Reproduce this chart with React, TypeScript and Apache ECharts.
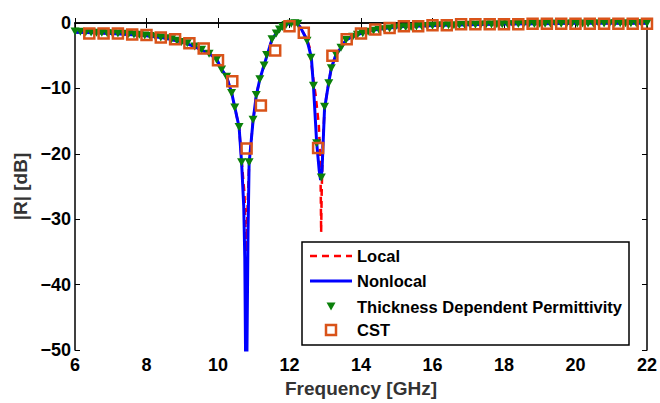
import React, { useEffect, useRef } from 'react';
import * as echarts from 'echarts';

// [frequency GHz, |R| dB]
const localCurve: [number, number][] = [
  [6.0, -1.4], [6.5, -1.5], [7.0, -1.6], [7.5, -1.75], [8.0, -1.95], [8.5, -2.3], [9.0, -2.9],
  [9.35, -3.6], [9.55, -4.2], [9.75, -4.65], [9.96, -5.5], [10.1, -7.1], [10.24, -8.2], [10.38, -10.6],
  [10.47, -12.9], [10.59, -15.9], [10.66, -21.0], [10.74, -26], [10.775, -32], [10.79, -35], [10.805, -32],
  [10.84, -26], [10.87, -21.5], [10.98, -15.0], [11.07, -11.1], [11.17, -8.6], [11.29, -6.4], [11.37, -5.0],
  [11.51, -2.5], [11.63, -1.6], [11.72, -1.0], [11.81, -0.6], [11.95, -0.15], [12.05, -0.05], [12.15, -0.05],
  [12.23, -0.2], [12.31, -0.7], [12.49, -2.5], [12.56, -3.7], [12.64, -7.5], [12.73, -11.0], [12.82, -15.6],
  [12.86, -20.5], [12.875, -26], [12.885, -32], [12.9, -26], [12.93, -19], [12.98, -13.1], [13.1, -9.0],
  [13.17, -6.9], [13.3, -4.8], [13.44, -3.8], [13.58, -2.6], [13.77, -2.1], [14.0, -1.6], [14.3, -1.1],
  [14.7, -0.8], [15.2, -0.55], [15.7, -0.45], [16.3, -0.35], [17.0, -0.25], [18.0, -0.15], [19.0, -0.1],
  [20.0, -0.05], [21.0, -0.03], [22.0, -0.02],
];

const nonlocalCurve: [number, number][] = [
  [6.0, -1.4], [6.5, -1.5], [7.0, -1.6], [7.5, -1.75], [8.0, -1.95], [8.5, -2.3], [9.0, -2.9],
  [9.35, -3.6], [9.55, -4.2], [9.75, -4.65], [9.96, -5.5], [10.1, -7.1], [10.24, -8.2], [10.38, -10.6],
  [10.47, -12.9], [10.59, -15.9], [10.66, -21.3], [10.72, -28], [10.75, -36], [10.77, -50], [10.79, -60],
  [10.81, -50], [10.84, -32], [10.87, -21.5], [10.98, -15.0], [11.07, -11.1], [11.17, -8.6], [11.29, -6.4],
  [11.37, -5.0], [11.51, -2.5], [11.63, -1.6], [11.72, -1.0], [11.81, -0.6], [11.95, -0.15], [12.05, -0.05],
  [12.15, -0.05], [12.23, -0.2], [12.31, -0.7], [12.49, -2.6], [12.61, -5.2], [12.67, -9.6], [12.76, -18.3],
  [12.83, -22.5], [12.87, -24], [12.91, -22.5], [12.98, -13.1], [13.1, -9.0], [13.17, -6.9], [13.3, -4.8],
  [13.44, -3.8], [13.58, -2.6], [13.77, -2.1], [14.0, -1.6], [14.3, -1.1], [14.7, -0.8], [15.2, -0.55],
  [15.7, -0.45], [16.3, -0.35], [17.0, -0.25], [18.0, -0.15], [19.0, -0.1], [20.0, -0.05], [21.0, -0.03],
  [22.0, -0.02],
];

const tdpPoints: [number, number][] = [
  [6.0, -1.3], [6.15, -1.35], [6.3, -1.4], [6.45, -1.45], [6.6, -1.5], [6.75, -1.5], [6.9, -1.55],
  [7.05, -1.6], [7.2, -1.6], [7.35, -1.65], [7.5, -1.7], [7.65, -1.75], [7.8, -1.8], [7.95, -1.9],
  [8.1, -2.0], [8.25, -2.1], [8.4, -2.2], [8.55, -2.35], [8.7, -2.5], [8.85, -2.7], [8.98, -2.9],
  [9.14, -3.1], [9.35, -3.6], [9.54, -4.1], [9.75, -4.7], [9.96, -5.6], [10.1, -7.1], [10.24, -8.2],
  [10.38, -10.7], [10.47, -12.9], [10.59, -15.9], [10.66, -21.3], [10.87, -21.3], [10.98, -14.8],
  [11.07, -11.0], [11.17, -8.6], [11.29, -6.5], [11.36, -4.9], [11.51, -2.5], [11.63, -1.6], [11.72, -1.0],
  [11.81, -0.6], [11.9, -0.3], [12.05, -0.1], [12.15, -0.05], [12.23, -0.1], [12.49, -2.7], [12.6, -5.3],
  [12.67, -9.6], [12.76, -18.4], [12.89, -23.6], [12.98, -12.8], [13.1, -9.2], [13.17, -6.9], [13.3, -4.8],
  [13.44, -3.8], [13.58, -2.6], [13.77, -2.1], [13.9, -1.8], [14.05, -1.55], [14.2, -1.35], [14.35, -1.2],
  [14.5, -1.05], [14.65, -0.95], [14.8, -0.85], [14.95, -0.75], [15.1, -0.7], [15.25, -0.65], [15.4, -0.6],
  [15.55, -0.55], [15.7, -0.5], [15.85, -0.45], [16.0, -0.42], [16.15, -0.4], [16.3, -0.38], [16.45, -0.35],
  [16.6, -0.33], [16.75, -0.3], [16.9, -0.3], [17.05, -0.28], [17.2, -0.26], [17.35, -0.25], [17.5, -0.24],
  [17.65, -0.22], [17.8, -0.21], [17.95, -0.2], [18.1, -0.19], [18.25, -0.18], [18.4, -0.17], [18.55, -0.16],
  [18.7, -0.15], [18.85, -0.14], [19.0, -0.13], [19.15, -0.12], [19.3, -0.12], [19.45, -0.11], [19.6, -0.1],
  [19.75, -0.1], [19.9, -0.09], [20.05, -0.09], [20.2, -0.08], [20.35, -0.08], [20.5, -0.07], [20.65, -0.07],
  [20.8, -0.06], [20.95, -0.06], [21.1, -0.05], [21.25, -0.05], [21.4, -0.05], [21.55, -0.04], [21.7, -0.04],
  [21.85, -0.04], [22.0, -0.03],
];

const cstPoints: [number, number][] = [
  [6.4, -1.6], [6.8, -1.6], [7.2, -1.6], [7.6, -1.75], [8.0, -1.85], [8.4, -2.2], [8.8, -2.5], [9.2, -3.1],
  [9.6, -3.9], [10.0, -5.7], [10.4, -8.9], [10.8, -19.2], [11.2, -12.6], [11.6, -4.2], [12.0, -0.5],
  [12.4, -1.5], [12.8, -19.1], [13.2, -5.0], [13.6, -2.5], [14.0, -1.6], [14.4, -1.0], [14.8, -0.76],
  [15.2, -0.5], [15.6, -0.5], [16.0, -0.35], [16.4, -0.35], [16.8, -0.2], [17.2, -0.2], [17.6, -0.2],
  [18.0, -0.2], [18.4, -0.2], [18.8, -0.1], [19.2, -0.1], [19.6, -0.1], [20.0, -0.1], [20.4, -0.1],
  [20.8, -0.1], [21.2, -0.1], [21.6, -0.1], [22.0, -0.1],
];

const legendNames = ['Local', 'Nonlocal', 'Thickness Dependent Permittivity', 'CST'];

const FONT = '"Liberation Sans", Arial, Helvetica, sans-serif';
const RED = '#ff0000';
const BLUE = '#0000ff';
const GREEN = '#0a800a';
const ORANGE = '#d95319';

export default function App() {
  const ref = useRef<HTMLDivElement>(null);

  useEffect(() => {
    const chart = echarts.init(ref.current!, null, { renderer: 'svg' });
    const fmt = (v: number) => (v < 0 ? '\u2212' + Math.abs(v) : String(v));
    const axisLine = { show: true, lineStyle: { color: '#000', width: 1.5 } };
    const axisTick = { show: true, inside: true, length: 5, lineStyle: { color: '#000', width: 1 } };
    const labelStyle = { color: '#000', fontWeight: 'bold', fontSize: 18, fontFamily: FONT };
    const nameStyle = { color: '#333', fontWeight: 'bold', fontSize: 19, fontFamily: FONT };

    const lx = 302, ly = 242, lw = 327, lh = 103;
    const rows = [256, 281, 306.5, 330];
    const textX = 357;

    chart.setOption({
      animation: false,
      backgroundColor: '#fff',
      grid: { left: 75, right: 12, top: 23, bottom: 52 },
      xAxis: [
        {
          type: 'value', min: 6, max: 22, interval: 2, position: 'bottom',
          name: 'Frequency [GHz]', nameLocation: 'middle', nameGap: 19, nameTextStyle: nameStyle,
          axisLine, axisTick, axisLabel: { ...labelStyle, margin: 6 }, splitLine: { show: false },
        },
        {
          type: 'value', min: 6, max: 22, interval: 2, position: 'top',
          axisLine, axisTick, axisLabel: { show: false }, splitLine: { show: false },
        },
      ],
      yAxis: [
        {
          type: 'value', min: -50, max: 0, interval: 10, position: 'left',
          name: '|R| [dB]', nameLocation: 'middle', nameGap: 38, nameTextStyle: nameStyle,
          axisLine, axisTick, axisLabel: { ...labelStyle, margin: 4, formatter: fmt }, splitLine: { show: false },
        },
        {
          type: 'value', min: -50, max: 0, interval: 10, position: 'right',
          axisLine, axisTick, axisLabel: { show: false }, splitLine: { show: false },
        },
      ],
      series: [
        {
          name: legendNames[0], type: 'line', data: localCurve, showSymbol: false, symbol: 'none',
          lineStyle: { color: RED, width: 2.5, type: [7, 5] }, z: 2, clip: true,
        },
        {
          name: legendNames[1], type: 'line', data: nonlocalCurve, showSymbol: false, symbol: 'none',
          lineStyle: { color: BLUE, width: 3 }, z: 3, clip: true,
        },
        {
          name: legendNames[2], type: 'scatter', data: tdpPoints, symbol: 'triangle', symbolRotate: 180,
          symbolSize: [9, 8], itemStyle: { color: GREEN, opacity: 1 }, z: 4,
        },
        {
          name: legendNames[3], type: 'scatter', data: cstPoints, symbol: 'rect', symbolSize: 10,
          itemStyle: { color: 'rgba(255,255,255,0)', borderColor: ORANGE, borderWidth: 2.5, opacity: 1 }, z: 5,
        },
      ],
      graphic: [
        {
          type: 'rect', z: 100, shape: { x: lx, y: ly, width: lw, height: lh },
          style: { fill: '#fff', stroke: '#000', lineWidth: 1.5 },
        },
        {
          type: 'line', z: 101, shape: { x1: 310, y1: rows[0], x2: 352, y2: rows[0] },
          style: { stroke: RED, lineWidth: 2.5, lineDash: [7, 5] },
        },
        {
          type: 'line', z: 101, shape: { x1: 310, y1: rows[1], x2: 352, y2: rows[1] },
          style: { stroke: BLUE, lineWidth: 3 },
        },
        {
          type: 'polygon', z: 101,
          shape: { points: [[326.5, rows[2] - 4], [335.5, rows[2] - 4], [331, rows[2] + 4]] },
          style: { fill: GREEN },
        },
        {
          type: 'rect', z: 101, shape: { x: 326, y: rows[3] - 5, width: 10, height: 10 },
          style: { fill: 'none', stroke: ORANGE, lineWidth: 2.5 },
        },
        ...legendNames.map((n, i) => ({
          type: 'text', z: 101, x: textX, y: rows[i],
          style: { text: n, fill: '#000', fontSize: 16.5, fontWeight: 'bold', fontFamily: FONT, verticalAlign: 'middle', align: 'left' },
        })),
      ],
    });
    return () => chart.dispose();
  }, []);

  return (
    <div
      ref={ref}
      style={{ position: 'fixed', left: 0, top: 0, width: 660, height: 403, background: '#fff' }}
    />
  );
}
